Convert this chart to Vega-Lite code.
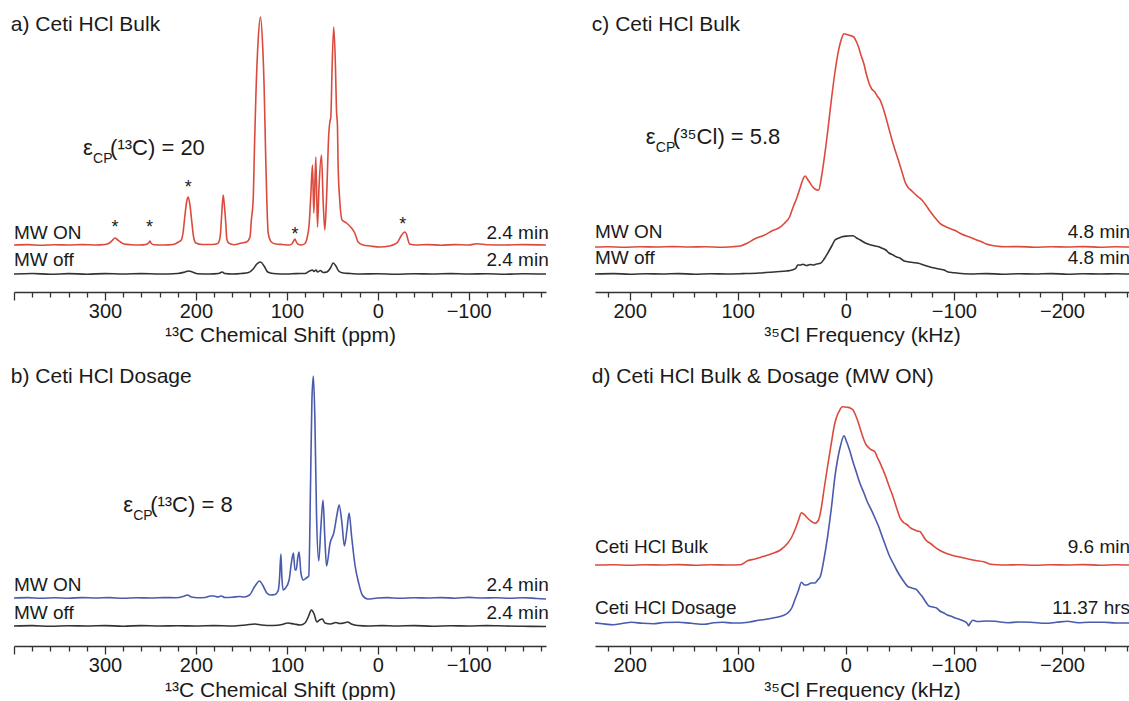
{
  "$schema": "https://vega.github.io/schema/vega-lite/v6.json",
  "padding": {"left": 10, "top": 10, "right": 0, "bottom": 0},
  "background": "white",
  "config": {
    "font": "Liberation Sans",
    "view": {"stroke": null},
    "text": {"font": "Liberation Sans", "color": "#1a1a1a"},
    "title": {"font": "Liberation Sans", "fontSize": 21, "fontWeight": "normal", "anchor": "start", "color": "#1a1a1a", "baseline": "middle"},
    "axis": {"grid": false, "domainColor": "#333333", "tickColor": "#333333", "labelColor": "#1a1a1a", "titleColor": "#1a1a1a", "labelFontSize": 20, "titleFontSize": 21, "titleFontWeight": "normal", "labelFont": "Liberation Sans", "titleFont": "Liberation Sans", "labelFlush": false, "labelOverlap": false, "tickWidth": 1.3, "domainWidth": 1.5, "tickCount": 60}
  },
  "datasets": {
    "a_on": [
      {"shift":400,"intensity":0},{"shift":385,"intensity":0.4},{"shift":370,"intensity":-0.3},{"shift":355,"intensity":0.3},{"shift":340,"intensity":0},{"shift":325,"intensity":0.4},{"shift":310,"intensity":0},{"shift":300,"intensity":0.5},{"shift":295,"intensity":2},{"shift":292,"intensity":4.5},{"shift":289,"intensity":7},{"shift":286,"intensity":5},{"shift":283,"intensity":3},{"shift":279,"intensity":1},{"shift":272,"intensity":0.3},{"shift":262,"intensity":0},{"shift":255,"intensity":0.5},{"shift":252,"intensity":2},{"shift":250.5,"intensity":4},{"shift":249,"intensity":1.5},{"shift":246,"intensity":0.3},{"shift":235,"intensity":0},{"shift":225,"intensity":0.5},{"shift":219,"intensity":3},{"shift":216,"intensity":5},{"shift":214,"intensity":13},{"shift":212,"intensity":30},{"shift":210,"intensity":44},{"shift":208.4,"intensity":48},{"shift":206.5,"intensity":40},{"shift":204.7,"intensity":25},{"shift":202.5,"intensity":8},{"shift":200,"intensity":2},{"shift":193,"intensity":0.5},{"shift":182,"intensity":0.5},{"shift":176,"intensity":1.5},{"shift":174,"intensity":5},{"shift":172.9,"intensity":12},{"shift":171.5,"intensity":32},{"shift":170,"intensity":50},{"shift":168.5,"intensity":38},{"shift":167,"intensity":20},{"shift":166,"intensity":6},{"shift":164,"intensity":2},{"shift":158,"intensity":0.3},{"shift":150,"intensity":2},{"shift":144.3,"intensity":3},{"shift":140.5,"intensity":8},{"shift":139,"intensity":25},{"shift":137,"intensity":45},{"shift":135.5,"intensity":100},{"shift":134,"intensity":150},{"shift":131.5,"intensity":205},{"shift":129,"intensity":228},{"shift":126.5,"intensity":198},{"shift":125,"intensity":160},{"shift":123.4,"intensity":95},{"shift":122,"intensity":45},{"shift":120.5,"intensity":12},{"shift":117,"intensity":3},{"shift":112,"intensity":1},{"shift":105,"intensity":0.5},{"shift":97,"intensity":0},{"shift":94,"intensity":1.5},{"shift":92,"intensity":5},{"shift":91,"intensity":6},{"shift":90,"intensity":4},{"shift":88,"intensity":1},{"shift":84,"intensity":0},{"shift":80,"intensity":1.5},{"shift":77.5,"intensity":8},{"shift":75.5,"intensity":20},{"shift":73.6,"intensity":50},{"shift":71.8,"intensity":80},{"shift":70.3,"intensity":32},{"shift":68.1,"intensity":88},{"shift":66.3,"intensity":18},{"shift":64.5,"intensity":60},{"shift":61.9,"intensity":90},{"shift":60.1,"intensity":45},{"shift":58.2,"intensity":15},{"shift":56.4,"intensity":45},{"shift":53.8,"intensity":112},{"shift":52.7,"intensity":123},{"shift":51.6,"intensity":128},{"shift":50.2,"intensity":178},{"shift":48.4,"intensity":218},{"shift":46.5,"intensity":178},{"shift":45.4,"intensity":135},{"shift":44.3,"intensity":119},{"shift":43.6,"intensity":80},{"shift":41.8,"intensity":45},{"shift":39.2,"intensity":25},{"shift":34.4,"intensity":22},{"shift":28.9,"intensity":17},{"shift":25.3,"intensity":12},{"shift":21.6,"intensity":3},{"shift":16,"intensity":0},{"shift":8,"intensity":-1},{"shift":-2,"intensity":-2},{"shift":-13,"intensity":-1},{"shift":-19,"intensity":1},{"shift":-22,"intensity":3},{"shift":-25,"intensity":8},{"shift":-28,"intensity":12},{"shift":-30,"intensity":13},{"shift":-31.5,"intensity":11},{"shift":-33,"intensity":6},{"shift":-35,"intensity":1},{"shift":-42,"intensity":0},{"shift":-55,"intensity":0.4},{"shift":-70,"intensity":-0.2},{"shift":-85,"intensity":0.4},{"shift":-100,"intensity":0},{"shift":-109,"intensity":1.2},{"shift":-120,"intensity":0.3},{"shift":-140,"intensity":0},{"shift":-160,"intensity":0.4},{"shift":-185,"intensity":0}
    ],
    "a_off": [
      {"shift":400,"intensity":0},{"shift":380,"intensity":0.5},{"shift":360,"intensity":-0.3},{"shift":340,"intensity":0.4},{"shift":320,"intensity":-0.2},{"shift":300,"intensity":0.4},{"shift":280,"intensity":0},{"shift":260,"intensity":0.4},{"shift":240,"intensity":0},{"shift":220,"intensity":0.5},{"shift":212,"intensity":2},{"shift":208,"intensity":3},{"shift":204,"intensity":2},{"shift":198,"intensity":0.3},{"shift":185,"intensity":0},{"shift":175,"intensity":0.5},{"shift":171,"intensity":2},{"shift":168,"intensity":0.5},{"shift":160,"intensity":0},{"shift":150,"intensity":0.5},{"shift":142,"intensity":1.5},{"shift":137,"intensity":5},{"shift":133,"intensity":10},{"shift":129,"intensity":12},{"shift":125,"intensity":8},{"shift":121,"intensity":2},{"shift":115,"intensity":0.5},{"shift":100,"intensity":0},{"shift":90,"intensity":0.4},{"shift":80,"intensity":0.5},{"shift":75,"intensity":3},{"shift":72,"intensity":4},{"shift":70,"intensity":2.5},{"shift":68,"intensity":4},{"shift":66,"intensity":2},{"shift":63,"intensity":3.5},{"shift":60,"intensity":1.5},{"shift":56,"intensity":2},{"shift":52,"intensity":6},{"shift":49,"intensity":11},{"shift":46,"intensity":8},{"shift":43,"intensity":3},{"shift":38,"intensity":1},{"shift":30,"intensity":0.5},{"shift":20,"intensity":0},{"shift":0,"intensity":0.3},{"shift":-20,"intensity":-0.2},{"shift":-40,"intensity":0.3},{"shift":-60,"intensity":0},{"shift":-80,"intensity":0.4},{"shift":-100,"intensity":0},{"shift":-120,"intensity":0.3},{"shift":-140,"intensity":-0.2},{"shift":-160,"intensity":0.3},{"shift":-185,"intensity":0}
    ],
    "b_on": [
      {"shift":400,"intensity":0},{"shift":385,"intensity":0.4},{"shift":370,"intensity":-0.3},{"shift":355,"intensity":0.3},{"shift":340,"intensity":-0.2},{"shift":325,"intensity":0.4},{"shift":310,"intensity":0},{"shift":295,"intensity":0.4},{"shift":280,"intensity":-0.3},{"shift":265,"intensity":0.3},{"shift":250,"intensity":0},{"shift":235,"intensity":0.4},{"shift":222,"intensity":0.3},{"shift":214,"intensity":1.5},{"shift":209,"intensity":3},{"shift":205,"intensity":1},{"shift":198,"intensity":0.3},{"shift":190,"intensity":0.5},{"shift":184,"intensity":2},{"shift":180,"intensity":2},{"shift":176,"intensity":1},{"shift":172,"intensity":2},{"shift":168,"intensity":0.5},{"shift":160,"intensity":0.8},{"shift":152,"intensity":1.5},{"shift":147,"intensity":1},{"shift":141,"intensity":3},{"shift":135,"intensity":12},{"shift":130,"intensity":17},{"shift":126,"intensity":12},{"shift":122,"intensity":5},{"shift":118,"intensity":3},{"shift":113,"intensity":3.5},{"shift":109.3,"intensity":8},{"shift":108,"intensity":20},{"shift":106.5,"intensity":44},{"shift":105.5,"intensity":22},{"shift":104.2,"intensity":8},{"shift":101.4,"intensity":10},{"shift":97.5,"intensity":18},{"shift":95,"intensity":35},{"shift":92.8,"intensity":45},{"shift":91,"intensity":28},{"shift":89.7,"intensity":28},{"shift":88,"intensity":40},{"shift":86.5,"intensity":46},{"shift":84.5,"intensity":25},{"shift":81.8,"intensity":18},{"shift":78.6,"intensity":20},{"shift":75.9,"intensity":22},{"shift":73.9,"intensity":115},{"shift":72.4,"intensity":198},{"shift":70.8,"intensity":222},{"shift":69.2,"intensity":182},{"shift":67.3,"intensity":82},{"shift":64.9,"intensity":37},{"shift":62.6,"intensity":70},{"shift":60.2,"intensity":98},{"shift":58.2,"intensity":60},{"shift":56.3,"intensity":32},{"shift":52.4,"intensity":55},{"shift":48.4,"intensity":65},{"shift":44.5,"intensity":85},{"shift":42.5,"intensity":93},{"shift":39.4,"intensity":75},{"shift":36.7,"intensity":52},{"shift":33.9,"intensity":68},{"shift":31.5,"intensity":85},{"shift":28.8,"intensity":62},{"shift":24.9,"intensity":32},{"shift":21,"intensity":15},{"shift":17,"intensity":3},{"shift":11.1,"intensity":-1},{"shift":0,"intensity":0},{"shift":-10,"intensity":0.4},{"shift":-25,"intensity":-0.3},{"shift":-40,"intensity":0.3},{"shift":-55,"intensity":0},{"shift":-70,"intensity":0.4},{"shift":-85,"intensity":-0.2},{"shift":-100,"intensity":0.6},{"shift":-115,"intensity":0},{"shift":-130,"intensity":0.3},{"shift":-145,"intensity":-0.3},{"shift":-160,"intensity":0.3},{"shift":-175,"intensity":-0.5},{"shift":-185,"intensity":-1}
    ],
    "b_off": [
      {"shift":400,"intensity":0},{"shift":380,"intensity":0.4},{"shift":360,"intensity":-0.3},{"shift":340,"intensity":0.3},{"shift":320,"intensity":0},{"shift":300,"intensity":0.4},{"shift":280,"intensity":-0.2},{"shift":260,"intensity":0.4},{"shift":240,"intensity":0},{"shift":220,"intensity":0.3},{"shift":200,"intensity":0},{"shift":180,"intensity":0.4},{"shift":160,"intensity":0},{"shift":145,"intensity":1},{"shift":135,"intensity":2},{"shift":128,"intensity":1},{"shift":115,"intensity":0.5},{"shift":105,"intensity":1.5},{"shift":99,"intensity":3},{"shift":92,"intensity":2},{"shift":85,"intensity":1},{"shift":80,"intensity":3},{"shift":76,"intensity":10},{"shift":73,"intensity":16},{"shift":70,"intensity":12},{"shift":67,"intensity":4},{"shift":64,"intensity":6},{"shift":61,"intensity":7},{"shift":58,"intensity":3},{"shift":52,"intensity":2},{"shift":46,"intensity":3.5},{"shift":42,"intensity":2.5},{"shift":37,"intensity":3},{"shift":33,"intensity":4},{"shift":29,"intensity":2},{"shift":22,"intensity":0.5},{"shift":10,"intensity":0},{"shift":-5,"intensity":0.4},{"shift":-20,"intensity":0},{"shift":-40,"intensity":0.4},{"shift":-60,"intensity":-0.2},{"shift":-80,"intensity":0.3},{"shift":-100,"intensity":0},{"shift":-120,"intensity":0.4},{"shift":-140,"intensity":0},{"shift":-160,"intensity":-0.3},{"shift":-185,"intensity":-0.5}
    ],
    "c_on": [
      {"shift":232,"intensity":0},{"shift":220,"intensity":0.3},{"shift":205,"intensity":-0.3},{"shift":190,"intensity":0.3},{"shift":175,"intensity":0},{"shift":160,"intensity":0.4},{"shift":145,"intensity":0},{"shift":130,"intensity":0.3},{"shift":115,"intensity":-0.2},{"shift":105,"intensity":0.3},{"shift":97.5,"intensity":1},{"shift":90.8,"intensity":4},{"shift":84,"intensity":8.3},{"shift":75,"intensity":12},{"shift":67.2,"intensity":16.7},{"shift":62,"intensity":19},{"shift":57.1,"intensity":23.3},{"shift":52,"intensity":30},{"shift":48.7,"intensity":40},{"shift":45,"intensity":50},{"shift":42,"intensity":60},{"shift":39.5,"intensity":68},{"shift":37.6,"intensity":71},{"shift":35.5,"intensity":68},{"shift":33.6,"intensity":65},{"shift":30.5,"intensity":60},{"shift":28.6,"intensity":58},{"shift":25.2,"intensity":56.7},{"shift":22.5,"intensity":70},{"shift":20.2,"intensity":86.7},{"shift":16.8,"intensity":115},{"shift":13.4,"intensity":146.7},{"shift":10,"intensity":175},{"shift":6.7,"intensity":196.7},{"shift":4,"intensity":208},{"shift":1.7,"intensity":213.3},{"shift":-1,"intensity":212.5},{"shift":-3.4,"intensity":211.7},{"shift":-7.4,"intensity":210},{"shift":-9.5,"intensity":206},{"shift":-11.8,"intensity":200},{"shift":-14,"intensity":192},{"shift":-16.8,"intensity":183},{"shift":-19,"intensity":173},{"shift":-21.8,"intensity":163},{"shift":-24,"intensity":158},{"shift":-26.9,"intensity":155},{"shift":-29,"intensity":151},{"shift":-31.9,"intensity":146.7},{"shift":-34.5,"intensity":139},{"shift":-37,"intensity":130},{"shift":-39.5,"intensity":120},{"shift":-42,"intensity":110},{"shift":-45,"intensity":99},{"shift":-48.7,"intensity":86.7},{"shift":-52,"intensity":75},{"shift":-55.5,"intensity":63.3},{"shift":-58,"intensity":59},{"shift":-60.5,"intensity":56.7},{"shift":-64,"intensity":53},{"shift":-67.2,"intensity":50},{"shift":-70.6,"intensity":46.7},{"shift":-74,"intensity":42},{"shift":-77.3,"intensity":36.7},{"shift":-82,"intensity":30},{"shift":-87.4,"intensity":23.3},{"shift":-93,"intensity":20},{"shift":-100.8,"intensity":16.7},{"shift":-107,"intensity":13},{"shift":-114.3,"intensity":10},{"shift":-120,"intensity":7.5},{"shift":-126,"intensity":5},{"shift":-130,"intensity":3},{"shift":-134.5,"intensity":1.7},{"shift":-140,"intensity":0.8},{"shift":-147.9,"intensity":0.3},{"shift":-160,"intensity":0.4},{"shift":-175,"intensity":-0.2},{"shift":-190,"intensity":0.3},{"shift":-205,"intensity":0},{"shift":-220,"intensity":0.4},{"shift":-235,"intensity":-0.2},{"shift":-250,"intensity":0.3},{"shift":-262,"intensity":0}
    ],
    "c_off": [
      {"shift":232,"intensity":0},{"shift":215,"intensity":0.4},{"shift":200,"intensity":-0.2},{"shift":185,"intensity":0.3},{"shift":170,"intensity":0},{"shift":155,"intensity":0.4},{"shift":140,"intensity":-0.2},{"shift":125,"intensity":0.3},{"shift":110,"intensity":0},{"shift":95,"intensity":0.4},{"shift":80,"intensity":1},{"shift":64,"intensity":2.3},{"shift":55,"intensity":3},{"shift":49.6,"intensity":4},{"shift":46,"intensity":6},{"shift":44.5,"intensity":9},{"shift":42,"intensity":9},{"shift":39.7,"intensity":9.7},{"shift":36,"intensity":8.5},{"shift":33,"intensity":9.5},{"shift":30.2,"intensity":9},{"shift":27,"intensity":10},{"shift":23.5,"intensity":10.7},{"shift":20,"intensity":15},{"shift":16.8,"intensity":20.7},{"shift":13,"intensity":28},{"shift":10,"intensity":34},{"shift":6.5,"intensity":36},{"shift":3.4,"intensity":37.3},{"shift":-2,"intensity":38},{"shift":-6.7,"intensity":38.3},{"shift":-10,"intensity":36},{"shift":-13.4,"intensity":34},{"shift":-18,"intensity":31},{"shift":-23.5,"intensity":29},{"shift":-27,"intensity":28},{"shift":-30.3,"intensity":27.3},{"shift":-33,"intensity":26},{"shift":-37,"intensity":24},{"shift":-40,"intensity":21},{"shift":-43.7,"intensity":19},{"shift":-47,"intensity":17},{"shift":-50.4,"intensity":15.7},{"shift":-54,"intensity":13},{"shift":-57.1,"intensity":12.3},{"shift":-62,"intensity":11.5},{"shift":-67.2,"intensity":10.7},{"shift":-72,"intensity":9},{"shift":-77.3,"intensity":7.3},{"shift":-82,"intensity":6},{"shift":-87.4,"intensity":4.7},{"shift":-91,"intensity":4},{"shift":-94,"intensity":2.3},{"shift":-100,"intensity":1.3},{"shift":-104,"intensity":0.7},{"shift":-115,"intensity":0},{"shift":-130,"intensity":0.4},{"shift":-145,"intensity":-0.2},{"shift":-160,"intensity":0.3},{"shift":-175,"intensity":0},{"shift":-190,"intensity":0.4},{"shift":-205,"intensity":-0.2},{"shift":-220,"intensity":0.3},{"shift":-235,"intensity":0},{"shift":-250,"intensity":0.3},{"shift":-262,"intensity":0}
    ],
    "d_bulk": [
      {"shift":232,"intensity":0},{"shift":215,"intensity":0.3},{"shift":200,"intensity":-0.2},{"shift":185,"intensity":0.3},{"shift":170,"intensity":0},{"shift":155,"intensity":0.4},{"shift":140,"intensity":-0.2},{"shift":125,"intensity":0.3},{"shift":110,"intensity":0},{"shift":97.5,"intensity":0.3},{"shift":90.8,"intensity":4.3},{"shift":84,"intensity":6},{"shift":77.3,"intensity":8.3},{"shift":72,"intensity":10},{"shift":67.2,"intensity":11.7},{"shift":60.5,"intensity":15},{"shift":53.8,"intensity":21.7},{"shift":50,"intensity":28},{"shift":47.1,"intensity":35},{"shift":44,"intensity":44},{"shift":41,"intensity":52.3},{"shift":38,"intensity":50},{"shift":35.3,"intensity":46.7},{"shift":31,"intensity":43},{"shift":28.6,"intensity":41.7},{"shift":25.2,"intensity":45},{"shift":22.5,"intensity":58},{"shift":20.2,"intensity":75},{"shift":16.8,"intensity":99},{"shift":13.4,"intensity":121.7},{"shift":10.5,"intensity":140},{"shift":8.4,"intensity":148.3},{"shift":5.5,"intensity":155},{"shift":3.3,"intensity":158.3},{"shift":-1.7,"intensity":157.7},{"shift":-4,"intensity":157},{"shift":-6.7,"intensity":155},{"shift":-9,"intensity":150},{"shift":-11.8,"intensity":141.7},{"shift":-14,"intensity":134},{"shift":-16.8,"intensity":125},{"shift":-19,"intensity":120},{"shift":-21.8,"intensity":116.7},{"shift":-24,"intensity":115},{"shift":-26.9,"intensity":113.3},{"shift":-29,"intensity":108},{"shift":-31.9,"intensity":101.7},{"shift":-34.5,"intensity":95},{"shift":-37,"intensity":88.3},{"shift":-40,"intensity":79},{"shift":-43.7,"intensity":68.3},{"shift":-47,"intensity":57},{"shift":-50.4,"intensity":46.7},{"shift":-54,"intensity":42},{"shift":-57.1,"intensity":40},{"shift":-60,"intensity":37},{"shift":-63.9,"intensity":35},{"shift":-66,"intensity":34},{"shift":-68.9,"intensity":33.3},{"shift":-71,"intensity":30},{"shift":-74,"intensity":25},{"shift":-79,"intensity":21},{"shift":-84,"intensity":16.7},{"shift":-90,"intensity":13},{"shift":-97.5,"intensity":10},{"shift":-105,"intensity":8},{"shift":-114.3,"intensity":5.7},{"shift":-120,"intensity":4.5},{"shift":-127.7,"intensity":3.3},{"shift":-134.5,"intensity":0.7},{"shift":-140,"intensity":0.2},{"shift":-148,"intensity":0},{"shift":-160,"intensity":0.3},{"shift":-175,"intensity":-0.2},{"shift":-190,"intensity":0.3},{"shift":-205,"intensity":0},{"shift":-220,"intensity":0.4},{"shift":-235,"intensity":-0.2},{"shift":-250,"intensity":0.3},{"shift":-262,"intensity":0}
    ],
    "d_dos": [
      {"shift":232,"intensity":0},{"shift":225,"intensity":-0.8},{"shift":215,"intensity":-1.7},{"shift":207,"intensity":-0.5},{"shift":198,"intensity":0.7},{"shift":188,"intensity":-0.3},{"shift":178,"intensity":-0.7},{"shift":168,"intensity":0.5},{"shift":155,"intensity":0.7},{"shift":143,"intensity":-0.3},{"shift":131,"intensity":-1.3},{"shift":122,"intensity":0.3},{"shift":114,"intensity":0.7},{"shift":105,"intensity":0},{"shift":97.5,"intensity":0},{"shift":89,"intensity":1},{"shift":80.6,"intensity":2.7},{"shift":72,"intensity":4},{"shift":63.9,"intensity":5.7},{"shift":58,"intensity":7.5},{"shift":53.8,"intensity":10},{"shift":50,"intensity":15},{"shift":47.1,"intensity":23.3},{"shift":44,"intensity":32},{"shift":41,"intensity":40.7},{"shift":38,"intensity":38},{"shift":35.3,"intensity":38.3},{"shift":32,"intensity":40},{"shift":28.6,"intensity":40},{"shift":26,"intensity":43},{"shift":23.5,"intensity":46.7},{"shift":20,"intensity":65},{"shift":16.8,"intensity":86.7},{"shift":13,"intensity":118},{"shift":10,"intensity":146.7},{"shift":7.5,"intensity":164},{"shift":5,"intensity":176.7},{"shift":1.7,"intensity":187.3},{"shift":-0.5,"intensity":182},{"shift":-3.4,"intensity":173.3},{"shift":-6.7,"intensity":161},{"shift":-10,"intensity":150},{"shift":-13,"intensity":140},{"shift":-16.8,"intensity":130},{"shift":-20,"intensity":121},{"shift":-23.5,"intensity":113.3},{"shift":-27,"intensity":105},{"shift":-30.3,"intensity":96.7},{"shift":-33.5,"intensity":87},{"shift":-37,"intensity":76.7},{"shift":-40,"intensity":68},{"shift":-43.7,"intensity":60},{"shift":-47,"intensity":53},{"shift":-50.4,"intensity":46.7},{"shift":-54,"intensity":41},{"shift":-57.1,"intensity":36.7},{"shift":-61,"intensity":35},{"shift":-65.5,"intensity":33.3},{"shift":-68,"intensity":30},{"shift":-70.6,"intensity":26.7},{"shift":-74,"intensity":21},{"shift":-77.3,"intensity":16.7},{"shift":-80.5,"intensity":16},{"shift":-84,"intensity":15},{"shift":-87,"intensity":12},{"shift":-90.8,"intensity":10},{"shift":-94,"intensity":8},{"shift":-97.5,"intensity":6.7},{"shift":-101,"intensity":5},{"shift":-104.2,"intensity":4},{"shift":-108,"intensity":2.5},{"shift":-112.6,"intensity":-0.7},{"shift":-113.6,"intensity":-2.7},{"shift":-115.5,"intensity":0.5},{"shift":-117.6,"intensity":2.7},{"shift":-122,"intensity":1.5},{"shift":-130,"intensity":2},{"shift":-137.8,"intensity":1.7},{"shift":-150,"intensity":0.3},{"shift":-160,"intensity":1},{"shift":-171,"intensity":0.7},{"shift":-185,"intensity":-0.3},{"shift":-195,"intensity":0.7},{"shift":-205,"intensity":1.7},{"shift":-215,"intensity":0.3},{"shift":-225,"intensity":0.7},{"shift":-239,"intensity":0.7},{"shift":-250,"intensity":0},{"shift":-262,"intensity":0}
    ]
  },
  "columns": 2,
  "spacing": {"row": 68, "column": 49},
  "bounds": "flush",
  "align": "each",
  "concat": [
    {
      "width": 532, "height": 282,
      "title": {"text": "a) Ceti HCl Bulk", "offset": -25},
      "resolve": {"scale": {"y": "independent"}},
      "layer": [
        {"layer": [
          {"data": {"name": "a_on"}, "mark": {"type": "line", "color": "#dc4a3d", "strokeWidth": 1.6, "interpolate": "monotone"},
           "encoding": {
             "x": {"field": "shift", "type": "quantitative", "scale": {"domain": [400, -185], "nice": false, "zero": false},
                   "axis": {"orient": "bottom", "tickCount": 60, "values": [400,380,360,340,320,300,280,260,240,220,200,180,160,140,120,100,80,60,40,20,0,-20,-40,-60,-80,-100,-120,-140,-160,-180], "labelExpr": "datum.value % 100 === 0 && datum.value < 350 ? datum.label : ''", "tickSize": {"condition": {"test": "datum.value % 100 === 0", "value": 8}, "value": 5}, "labelPadding": 1, "title": "¹³C Chemical Shift (ppm)", "titlePadding": 3}},
             "y": {"field": "intensity", "type": "quantitative", "scale": {"domain": [-47, 235], "nice": false, "zero": false}, "axis": null}}},
          {"data": {"values": [{"shift": 400, "intensity": 12, "label": "MW ON"}]},
           "mark": {"type": "text", "align": "left", "baseline": "middle", "fontSize": 19},
           "encoding": {"x": {"field": "shift", "type": "quantitative"}, "y": {"field": "intensity", "type": "quantitative", "axis": null}, "text": {"field": "label"}}},
          {"data": {"values": [{"shift": -188, "intensity": 12, "label": "2.4 min"}]},
           "mark": {"type": "text", "align": "right", "baseline": "middle", "fontSize": 19},
           "encoding": {"x": {"field": "shift", "type": "quantitative"}, "y": {"field": "intensity", "type": "quantitative", "axis": null}, "text": {"field": "label"}}},
          {"data": {"values": [{"shift": 289, "intensity": 17, "label": "*"}, {"shift": 251, "intensity": 17, "label": "*"}, {"shift": 208.5, "intensity": 57, "label": "*"}, {"shift": 91, "intensity": 10, "label": "*"}, {"shift": -27.5, "intensity": 20, "label": "*"}]},
           "mark": {"type": "text", "align": "center", "baseline": "middle", "fontSize": 18},
           "encoding": {"x": {"field": "shift", "type": "quantitative"}, "y": {"field": "intensity", "type": "quantitative", "axis": null}, "text": {"field": "label"}}},
          {"data": {"values": [{"shift": 324, "intensity": 97, "label": "ε"}, {"shift": 294.3, "intensity": 97, "label": "(¹³C) = 20"}]},
           "mark": {"type": "text", "align": "left", "baseline": "middle", "fontSize": 22},
           "encoding": {"x": {"field": "shift", "type": "quantitative"}, "y": {"field": "intensity", "type": "quantitative", "axis": null}, "text": {"field": "label"}}},
          {"data": {"values": [{"shift": 313, "intensity": 86, "label": "CP"}]},
           "mark": {"type": "text", "align": "left", "baseline": "middle", "fontSize": 14},
           "encoding": {"x": {"field": "shift", "type": "quantitative"}, "y": {"field": "intensity", "type": "quantitative", "axis": null}, "text": {"field": "label"}}}
        ]},
        {"layer": [
          {"data": {"name": "a_off"}, "mark": {"type": "line", "color": "#333333", "strokeWidth": 1.6, "interpolate": "monotone"},
           "encoding": {
             "x": {"field": "shift", "type": "quantitative", "scale": {"domain": [400, -185], "nice": false, "zero": false}},
             "y": {"field": "intensity", "type": "quantitative", "scale": {"domain": [-18, 264], "nice": false, "zero": false}, "axis": null}}},
          {"data": {"values": [{"shift": 400, "intensity": 14, "label": "MW off"}]},
           "mark": {"type": "text", "align": "left", "baseline": "middle", "fontSize": 19},
           "encoding": {"x": {"field": "shift", "type": "quantitative"}, "y": {"field": "intensity", "type": "quantitative", "axis": null}, "text": {"field": "label"}}},
          {"data": {"values": [{"shift": -188, "intensity": 14, "label": "2.4 min"}]},
           "mark": {"type": "text", "align": "right", "baseline": "middle", "fontSize": 19},
           "encoding": {"x": {"field": "shift", "type": "quantitative"}, "y": {"field": "intensity", "type": "quantitative", "axis": null}, "text": {"field": "label"}}}
        ]}
      ]
    },
    {
      "width": 534, "height": 282,
      "title": {"text": "c) Ceti HCl Bulk", "offset": -25},
      "resolve": {"scale": {"y": "independent"}},
      "layer": [
        {"layer": [
          {"data": {"name": "c_on"}, "mark": {"type": "line", "color": "#dc4a3d", "strokeWidth": 1.6, "interpolate": "monotone"},
           "encoding": {
             "x": {"field": "shift", "type": "quantitative", "scale": {"domain": [232, -262], "nice": false, "zero": false},
                   "axis": {"orient": "bottom", "tickCount": 60, "values": [220,200,180,160,140,120,100,80,60,40,20,0,-20,-40,-60,-80,-100,-120,-140,-160,-180,-200,-220,-240,-260], "labelExpr": "datum.value % 100 === 0 ? datum.label : ''", "tickSize": {"condition": {"test": "datum.value % 100 === 0", "value": 8}, "value": 5}, "labelPadding": 1, "title": "³⁵Cl Frequency (kHz)", "titlePadding": 3}},
             "y": {"field": "intensity", "type": "quantitative", "scale": {"domain": [-45, 237], "nice": false, "zero": false}, "axis": null}}},
          {"data": {"values": [{"shift": 232, "intensity": 15, "label": "MW ON"}]},
           "mark": {"type": "text", "align": "left", "baseline": "middle", "fontSize": 19},
           "encoding": {"x": {"field": "shift", "type": "quantitative"}, "y": {"field": "intensity", "type": "quantitative", "axis": null}, "text": {"field": "label"}}},
          {"data": {"values": [{"shift": -263, "intensity": 15, "label": "4.8 min"}]},
           "mark": {"type": "text", "align": "right", "baseline": "middle", "fontSize": 19},
           "encoding": {"x": {"field": "shift", "type": "quantitative"}, "y": {"field": "intensity", "type": "quantitative", "axis": null}, "text": {"field": "label"}}},
          {"data": {"values": [{"shift": 185, "intensity": 110, "label": "ε"}, {"shift": 160, "intensity": 110, "label": "(³⁵Cl) = 5.8"}]},
           "mark": {"type": "text", "align": "left", "baseline": "middle", "fontSize": 22},
           "encoding": {"x": {"field": "shift", "type": "quantitative"}, "y": {"field": "intensity", "type": "quantitative", "axis": null}, "text": {"field": "label"}}},
          {"data": {"values": [{"shift": 175.7, "intensity": 99, "label": "CP"}]},
           "mark": {"type": "text", "align": "left", "baseline": "middle", "fontSize": 14},
           "encoding": {"x": {"field": "shift", "type": "quantitative"}, "y": {"field": "intensity", "type": "quantitative", "axis": null}, "text": {"field": "label"}}}
        ]},
        {"layer": [
          {"data": {"name": "c_off"}, "mark": {"type": "line", "color": "#333333", "strokeWidth": 1.6, "interpolate": "monotone"},
           "encoding": {
             "x": {"field": "shift", "type": "quantitative", "scale": {"domain": [232, -262], "nice": false, "zero": false}},
             "y": {"field": "intensity", "type": "quantitative", "scale": {"domain": [-18, 264], "nice": false, "zero": false}, "axis": null}}},
          {"data": {"values": [{"shift": 232, "intensity": 16, "label": "MW off"}]},
           "mark": {"type": "text", "align": "left", "baseline": "middle", "fontSize": 19},
           "encoding": {"x": {"field": "shift", "type": "quantitative"}, "y": {"field": "intensity", "type": "quantitative", "axis": null}, "text": {"field": "label"}}},
          {"data": {"values": [{"shift": -263, "intensity": 16, "label": "4.8 min"}]},
           "mark": {"type": "text", "align": "right", "baseline": "middle", "fontSize": 19},
           "encoding": {"x": {"field": "shift", "type": "quantitative"}, "y": {"field": "intensity", "type": "quantitative", "axis": null}, "text": {"field": "label"}}}
        ]}
      ]
    },
    {
      "width": 532, "height": 286,
      "title": {"text": "b) Ceti HCl Dosage", "offset": -27},
      "resolve": {"scale": {"y": "independent"}},
      "layer": [
        {"layer": [
          {"data": {"name": "b_on"}, "mark": {"type": "line", "color": "#4a5aad", "strokeWidth": 1.6, "interpolate": "monotone"},
           "encoding": {
             "x": {"field": "shift", "type": "quantitative", "scale": {"domain": [400, -185], "nice": false, "zero": false},
                   "axis": {"orient": "bottom", "tickCount": 60, "values": [400,380,360,340,320,300,280,260,240,220,200,180,160,140,120,100,80,60,40,20,0,-20,-40,-60,-80,-100,-120,-140,-160,-180], "labelExpr": "datum.value % 100 === 0 && datum.value < 350 ? datum.label : ''", "tickSize": {"condition": {"test": "datum.value % 100 === 0", "value": 8}, "value": 5}, "labelPadding": 1, "title": "¹³C Chemical Shift (ppm)", "titlePadding": 4}},
             "y": {"field": "intensity", "type": "quantitative", "scale": {"domain": [-48, 238], "nice": false, "zero": false}, "axis": null}}},
          {"data": {"values": [{"shift": 400, "intensity": 13, "label": "MW ON"}]},
           "mark": {"type": "text", "align": "left", "baseline": "middle", "fontSize": 19},
           "encoding": {"x": {"field": "shift", "type": "quantitative"}, "y": {"field": "intensity", "type": "quantitative", "axis": null}, "text": {"field": "label"}}},
          {"data": {"values": [{"shift": -188, "intensity": 13, "label": "2.4 min"}]},
           "mark": {"type": "text", "align": "right", "baseline": "middle", "fontSize": 19},
           "encoding": {"x": {"field": "shift", "type": "quantitative"}, "y": {"field": "intensity", "type": "quantitative", "axis": null}, "text": {"field": "label"}}},
          {"data": {"values": [{"shift": 280, "intensity": 93, "label": "ε"}, {"shift": 250.3, "intensity": 93, "label": "(¹³C) = 8"}]},
           "mark": {"type": "text", "align": "left", "baseline": "middle", "fontSize": 22},
           "encoding": {"x": {"field": "shift", "type": "quantitative"}, "y": {"field": "intensity", "type": "quantitative", "axis": null}, "text": {"field": "label"}}},
          {"data": {"values": [{"shift": 269, "intensity": 82, "label": "CP"}]},
           "mark": {"type": "text", "align": "left", "baseline": "middle", "fontSize": 14},
           "encoding": {"x": {"field": "shift", "type": "quantitative"}, "y": {"field": "intensity", "type": "quantitative", "axis": null}, "text": {"field": "label"}}}
        ]},
        {"layer": [
          {"data": {"name": "b_off"}, "mark": {"type": "line", "color": "#333333", "strokeWidth": 1.6, "interpolate": "monotone"},
           "encoding": {
             "x": {"field": "shift", "type": "quantitative", "scale": {"domain": [400, -185], "nice": false, "zero": false}},
             "y": {"field": "intensity", "type": "quantitative", "scale": {"domain": [-20, 266], "nice": false, "zero": false}, "axis": null}}},
          {"data": {"values": [{"shift": 400, "intensity": 13, "label": "MW off"}]},
           "mark": {"type": "text", "align": "left", "baseline": "middle", "fontSize": 19},
           "encoding": {"x": {"field": "shift", "type": "quantitative"}, "y": {"field": "intensity", "type": "quantitative", "axis": null}, "text": {"field": "label"}}},
          {"data": {"values": [{"shift": -188, "intensity": 13, "label": "2.4 min"}]},
           "mark": {"type": "text", "align": "right", "baseline": "middle", "fontSize": 19},
           "encoding": {"x": {"field": "shift", "type": "quantitative"}, "y": {"field": "intensity", "type": "quantitative", "axis": null}, "text": {"field": "label"}}}
        ]}
      ]
    },
    {
      "width": 534, "height": 286,
      "title": {"text": "d) Ceti HCl Bulk & Dosage (MW ON)", "offset": -27},
      "resolve": {"scale": {"y": "independent"}},
      "layer": [
        {"layer": [
          {"data": {"name": "d_bulk"}, "mark": {"type": "line", "color": "#dc4a3d", "strokeWidth": 1.6, "interpolate": "monotone"},
           "encoding": {
             "x": {"field": "shift", "type": "quantitative", "scale": {"domain": [232, -262], "nice": false, "zero": false},
                   "axis": {"orient": "bottom", "tickCount": 60, "values": [220,200,180,160,140,120,100,80,60,40,20,0,-20,-40,-60,-80,-100,-120,-140,-160,-180,-200,-220,-240,-260], "labelExpr": "datum.value % 100 === 0 ? datum.label : ''", "tickSize": {"condition": {"test": "datum.value % 100 === 0", "value": 8}, "value": 5}, "labelPadding": 1, "title": "³⁵Cl Frequency (kHz)", "titlePadding": 4}},
             "y": {"field": "intensity", "type": "quantitative", "scale": {"domain": [-81, 205], "nice": false, "zero": false}, "axis": null}}},
          {"data": {"values": [{"shift": 232, "intensity": 18, "label": "Ceti HCl Bulk"}]},
           "mark": {"type": "text", "align": "left", "baseline": "middle", "fontSize": 19},
           "encoding": {"x": {"field": "shift", "type": "quantitative"}, "y": {"field": "intensity", "type": "quantitative", "axis": null}, "text": {"field": "label"}}},
          {"data": {"values": [{"shift": -263, "intensity": 18, "label": "9.6 min"}]},
           "mark": {"type": "text", "align": "right", "baseline": "middle", "fontSize": 19},
           "encoding": {"x": {"field": "shift", "type": "quantitative"}, "y": {"field": "intensity", "type": "quantitative", "axis": null}, "text": {"field": "label"}}}
        ]},
        {"layer": [
          {"data": {"name": "d_dos"}, "mark": {"type": "line", "color": "#4a5aad", "strokeWidth": 1.6, "interpolate": "monotone"},
           "encoding": {
             "x": {"field": "shift", "type": "quantitative", "scale": {"domain": [232, -262], "nice": false, "zero": false}},
             "y": {"field": "intensity", "type": "quantitative", "scale": {"domain": [-23, 263], "nice": false, "zero": false}, "axis": null}}},
          {"data": {"values": [{"shift": 232, "intensity": 15, "label": "Ceti HCl Dosage"}]},
           "mark": {"type": "text", "align": "left", "baseline": "middle", "fontSize": 19},
           "encoding": {"x": {"field": "shift", "type": "quantitative"}, "y": {"field": "intensity", "type": "quantitative", "axis": null}, "text": {"field": "label"}}},
          {"data": {"values": [{"shift": -263, "intensity": 15, "label": "11.37 hrs"}]},
           "mark": {"type": "text", "align": "right", "baseline": "middle", "fontSize": 19},
           "encoding": {"x": {"field": "shift", "type": "quantitative"}, "y": {"field": "intensity", "type": "quantitative", "axis": null}, "text": {"field": "label"}}}
        ]}
      ]
    }
  ]
}
